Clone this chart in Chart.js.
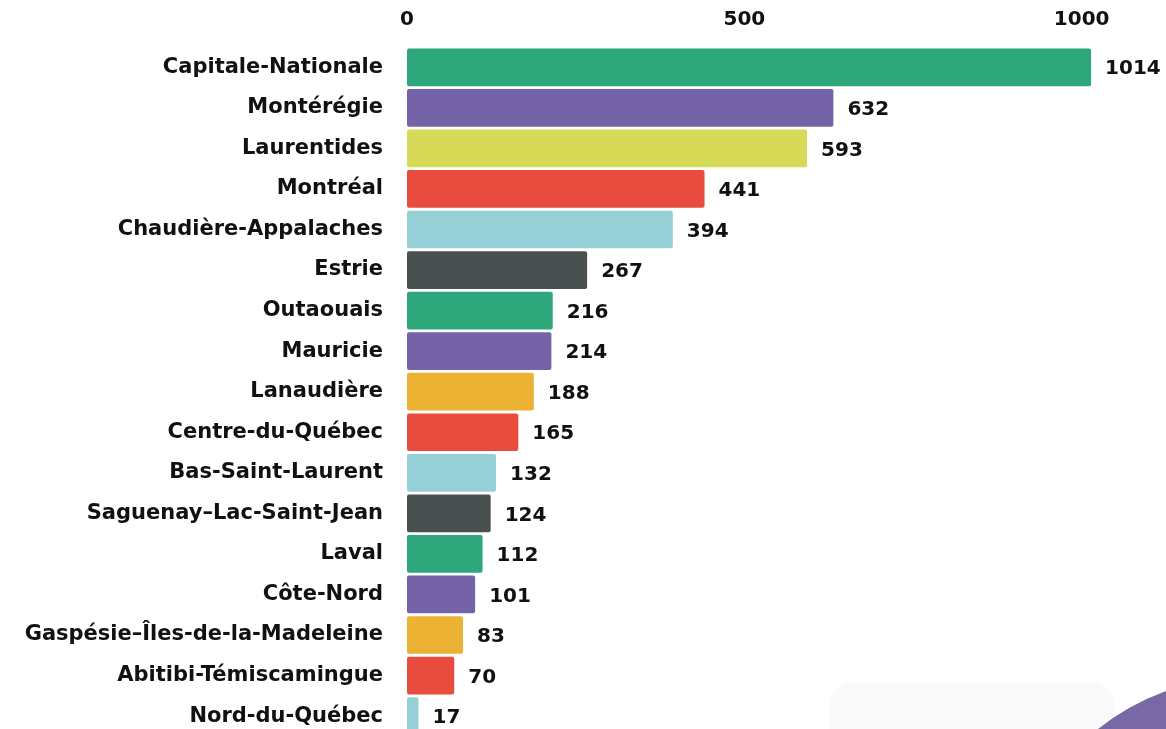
<!DOCTYPE html>
<html>
<head>
<meta charset="utf-8">
<script src="https://cdn.jsdelivr.net/npm/chart.js@4/dist/chart.umd.min.js"></script>
<style>
  html, body { margin: 0; padding: 0; background: #fff; overflow: hidden; width: 1166px; height: 729px; }
  #wrap { position: relative; width: 1166px; height: 773px; }
  #card { position: absolute; left: 830px; top: 683px; width: 284px; height: 80px; background: #f9f9f9; border-radius: 22px; }
  #deco { position: absolute; left: 0; top: 0; }
  canvas { position: absolute; left: 0; top: 0; }
</style>
</head>
<body>
<div id="wrap">
  <div id="card"></div>
  <canvas id="myBarChart" width="1166" height="773"></canvas>
  <svg id="deco" width="1166" height="729">
    <path d="M1166,691 Q1128,705 1098,729 L1166,729 Z" fill="#7868a6"/>
  </svg>
</div>
<script>
// 지역 이름
const regions = [
  'Capitale-Nationale', 'Montérégie', 'Laurentides', 'Montréal',
  'Chaudière-Appalaches', 'Estrie', 'Outaouais', 'Mauricie',
  'Lanaudière', 'Centre-du-Québec', 'Bas-Saint-Laurent',
  'Saguenay–Lac-Saint-Jean', 'Laval', 'Côte-Nord',
  'Gaspésie–Îles-de-la-Madeleine', 'Abitibi-Témiscamingue', 'Nord-du-Québec'
];
// 값
const counts = [1014, 632, 593, 441, 394, 267, 216, 214, 188, 165, 132, 124, 112, 101, 83, 70, 17];
// 색상
const barColors = [
  '#2ea77c', '#7463a6', '#d6da57', '#e74c3f', '#94d0d5', '#4a4f50',
  '#2ea77c', '#7463a6', '#ebb234', '#e74c3f', '#94d0d5', '#4a4f50',
  '#2ea77c', '#7463a6', '#ebb234', '#e74c3f', '#94d0d5'
];
const xTicks = [0, 500, 1000];

const labelFont = { family: "'DejaVu Sans', sans-serif", size: 21, weight: 'bold' };
const tickFont = { family: "'DejaVu Sans', sans-serif", size: 20, weight: 'bold' };

// 막대 끝 값 표시
const valueLabels = {
  id: 'valueLabels',
  afterDatasetsDraw(chart) {
    const ctx = chart.ctx;
    const meta = chart.getDatasetMeta(0);
    ctx.save();
    ctx.font = `bold 20px 'DejaVu Sans', sans-serif`;
    ctx.fillStyle = '#111';
    ctx.textBaseline = 'middle';
    ctx.textAlign = 'left';
    meta.data.forEach((bar, i) => {
      ctx.fillText(String(counts[i]), bar.x + 14, bar.y + 2);
    });
    ctx.restore();
  }
};

const ctx = document.getElementById('myBarChart').getContext('2d');
const myChart = new Chart(ctx, {
  type: 'bar',
  data: {
    labels: regions,
    datasets: [{
      data: counts,
      backgroundColor: barColors,
      borderRadius: 2,
      borderSkipped: false,
      categoryPercentage: 1,
      barPercentage: 0.93
    }]
  },
  options: {
    indexAxis: 'y',
    responsive: false,
    animation: false,
    layout: { padding: 0 },
    plugins: {
      legend: { display: false },
      tooltip: { enabled: false }
    },
    scales: {
      x: {
        position: 'top',
        min: 0,
        max: 1125,
        grid: { display: false, drawTicks: false },
        border: { display: false },
        ticks: { color: '#111', font: tickFont, padding: 15, callback: v => String(v) },
        afterBuildTicks: scale => {
          scale.ticks = xTicks.map(v => ({ value: v }));
        },
        afterFit: scale => { scale.height = 47; }
      },
      y: {
        grid: { display: false, drawTicks: false },
        border: { display: false },
        ticks: { color: '#111', font: labelFont, padding: 24, autoSkip: false },
        afterFit: scale => { scale.width = 407; }
      }
    }
  },
  plugins: [valueLabels]
});
</script>
</body>
</html>
